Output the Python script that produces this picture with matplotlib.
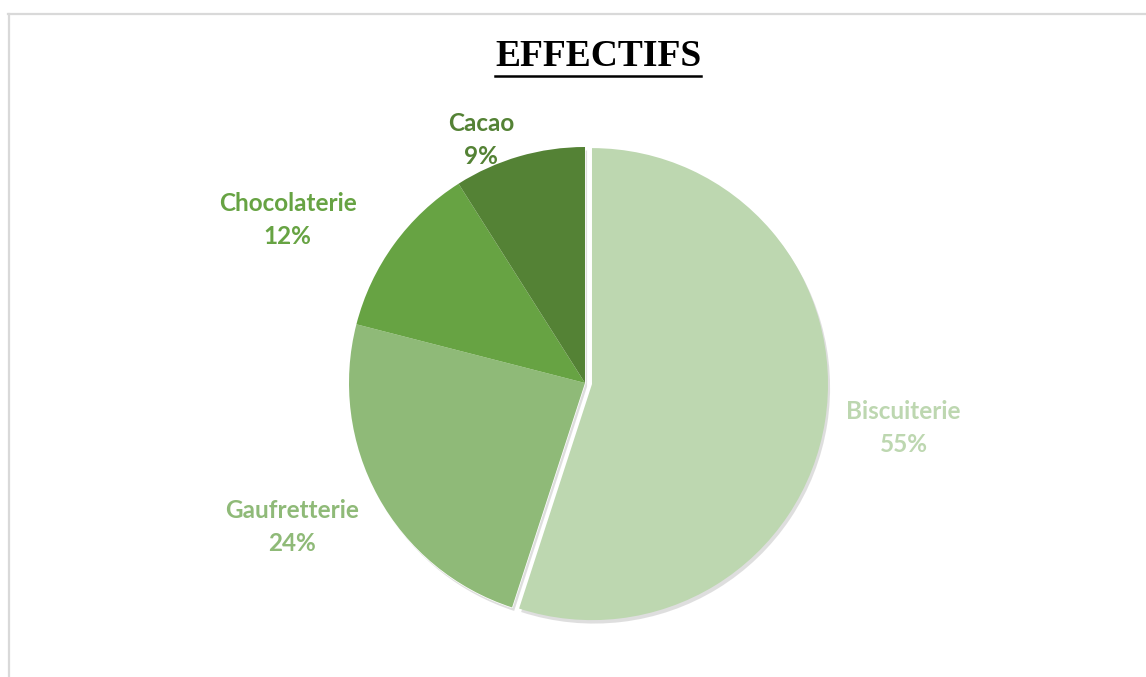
import matplotlib
matplotlib.use('Agg')
import matplotlib.pyplot as plt
import matplotlib.patheffects as pe
from matplotlib.lines import Line2D
from matplotlib.patches import Wedge

categories = ['Biscuiterie', 'Gaufretterie', 'Chocolaterie', 'Cacao']
values = [55, 24, 12, 9]
colors = ['#BDD7B0', '#8FBA78', '#67A343', '#548235']
explode = [0.03, 0, 0, 0]
# label centres in pie units (radius = 1)
label_pos = [(1.35, -0.19), (-1.24, -0.61), (-1.26, 0.69), (-0.44, 1.03)]

W, H = 1146, 677
fig = plt.figure(figsize=(W / 100, H / 100), dpi=100)
fig.patch.set_facecolor('white')

cx, cy, r = 585, 383, 236
ax = fig.add_axes([(cx - r) / W, (H - cy - r) / H, 2 * r / W, 2 * r / H])
wedges, _ = ax.pie(values, colors=colors, startangle=90, counterclock=False,
                   explode=explode, radius=1,
                   wedgeprops=dict(linewidth=0))

shadow = [pe.SimplePatchShadow(offset=(1.5, -2.5), shadow_rgbFace='#7f7f7f', alpha=0.25),
          pe.Normal()]
wedges[0].set_path_effects(shadow)
# one shadow under the rest of the pie so no seams show between slices
rest = Wedge((0, 0), 1, wedges[-1].theta1, wedges[1].theta2, color='white', zorder=0.5)
rest.set_path_effects(shadow)
ax.add_patch(rest)

ax.set_xlim(-1, 1)
ax.set_ylim(-1, 1)
ax.set_aspect('equal')
ax.axis('off')

for name, val, col, (lx, ly) in zip(categories, values, colors, label_pos):
    ax.text(lx, ly, f'{name}\n{val}%', color=col, ha='center', va='center',
            fontsize=17.5, fontweight='bold', family='Lato', linespacing=1.5,
            clip_on=False)

title = fig.text(598 / W, 1 - 57 / H, 'EFFECTIFS', ha='center', va='center',
                 fontsize=27, fontweight='bold', family='Liberation Serif')

# frame lines (top and left only visible)
fig.add_artist(Line2D([8 / W, 1], [1 - 13.5 / H, 1 - 13.5 / H], color='#D9D9D9', lw=1.6))
fig.add_artist(Line2D([8.5 / W, 8.5 / W], [0, 1 - 13.5 / H], color='#D9D9D9', lw=1.6))

# underline the title
fig.canvas.draw()
bb = title.get_window_extent(fig.canvas.get_renderer())
uy = (bb.y0 - 1) / H
fig.add_artist(Line2D([bb.x0 / W, bb.x1 / W], [uy, uy], color='black', lw=1.8))

fig.savefig('out.png', dpi=100)
